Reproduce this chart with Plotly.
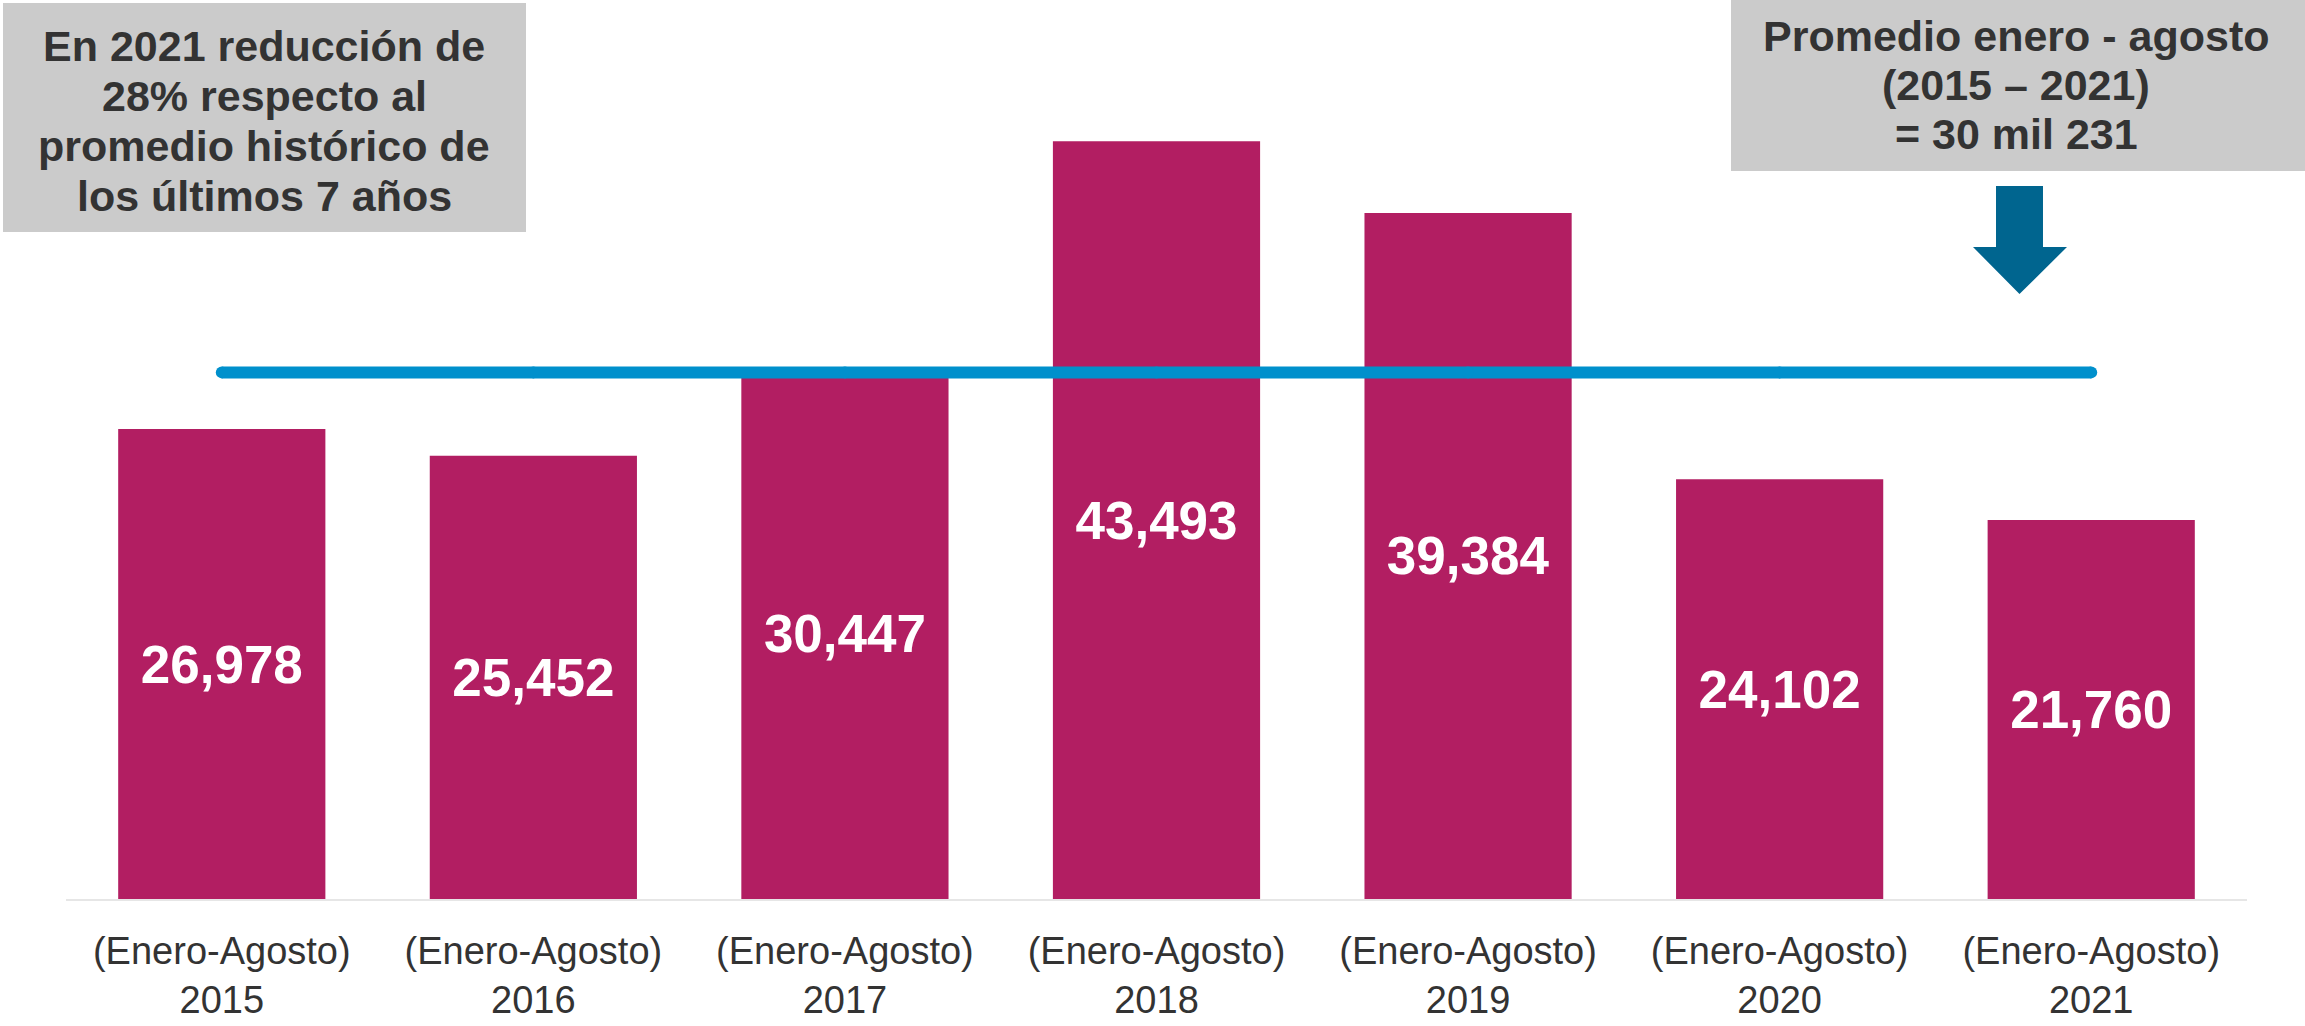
import plotly.graph_objects as go

# ---- data ----
years = ["2015", "2016", "2017", "2018", "2019", "2020", "2021"]
period_label = "(Enero-Agosto)"
values = [26978, 25452, 30447, 43493, 39384, 24102, 21760]
promedio = 30231

left_box_lines = ["En 2021 reducción de", "28% respecto al",
                  "promedio histórico de", "los últimos 7 años"]
right_box_lines = ["Promedio enero - agosto", "(2015 – 2021)", "= 30 mil 231"]

# ---- style ----
W, H = 2305, 1026
ML, MR, MT, MB = 66, 58, 28, 127
FONT = "Liberation Sans, Arial, sans-serif"
BAR_COLOR = "#B21E62"
LINE_COLOR = "#0090CC"
ARROW_COLOR = "#00658F"
BOX_COLOR = "#CBCBCB"
TEXT_COLOR = "#333333"

PW = W - ML - MR
PH = H - MT - MB


def px(x):
    return (x - ML) / PW


def py(y):
    return (H - MB - y) / PH


tick_text = [f"{period_label}<br>{y}" for y in years]

fig = go.Figure()
fig.add_trace(go.Bar(
    x=years, y=values,
    marker=dict(color=BAR_COLOR, line=dict(width=0)),
    text=[f"{v:,}" for v in values],
    textposition="inside", insidetextanchor="middle",
    textangle=0,
    textfont=dict(family=FONT, size=53, color="white", weight="bold"),
    cliponaxis=False,
    hoverinfo="skip",
))
fig.add_trace(go.Scatter(
    x=years, y=[promedio] * len(years),
    mode="lines+markers",
    line=dict(color=LINE_COLOR, width=12),
    marker=dict(color=LINE_COLOR, size=12, line=dict(width=0)),
    hoverinfo="skip",
))

shapes = []
# left grey box
shapes.append(dict(type="rect", xref="paper", yref="paper",
                   x0=px(3), x1=px(526), y0=py(232), y1=py(3),
                   fillcolor=BOX_COLOR, line=dict(width=0), layer="below"))
# right grey box
shapes.append(dict(type="rect", xref="paper", yref="paper",
                   x0=px(1731), x1=px(2305), y0=py(171), y1=py(0),
                   fillcolor=BOX_COLOR, line=dict(width=0), layer="below"))
# arrow
pts = [(1996, 186), (2043, 186), (2043, 247), (2067, 247), (2019.5, 294),
       (1973, 247), (1996, 247)]
path = "M " + " L ".join(f"{px(a):.5f},{py(b):.5f}" for a, b in pts) + " Z"
shapes.append(dict(type="path", xref="paper", yref="paper", path=path,
                   fillcolor=ARROW_COLOR, line=dict(width=0)))

annotations = []
BF = 43
for i, t in enumerate(left_box_lines):
    base = 60 + 50 * i
    annotations.append(dict(xref="paper", yref="paper", x=px(264), y=py(base - 0.33 * BF),
                            text=f"<b>{t}</b>", showarrow=False, xanchor="center",
                            yanchor="middle",
                            font=dict(family=FONT, size=BF, color=TEXT_COLOR)))
for i, t in enumerate(right_box_lines):
    base = 50 + 49 * i
    annotations.append(dict(xref="paper", yref="paper", x=px(2016), y=py(base - 0.33 * BF),
                            text=f"<b>{t}</b>", showarrow=False, xanchor="center",
                            yanchor="middle",
                            font=dict(family=FONT, size=BF, color=TEXT_COLOR)))

fig.update_layout(
    width=W, height=H,
    margin=dict(l=ML, r=MR, t=MT, b=MB, pad=0, autoexpand=False),
    paper_bgcolor="white", plot_bgcolor="white",
    showlegend=False,
    bargap=0.335,
    shapes=shapes,
    annotations=annotations,
    xaxis=dict(type="category", tickvals=years, ticktext=tick_text,
               showgrid=False, showline=True, linecolor="#E6E6E6", linewidth=2,
               ticks="", ticklabelstandoff=17, automargin=False,
               tickfont=dict(family=FONT, size=38, color=TEXT_COLOR),
               zeroline=False, fixedrange=True),
    yaxis=dict(range=[0, 50000], visible=False, showgrid=False, zeroline=False,
               automargin=False, fixedrange=True),
)

fig.write_html("out.html", config={"displayModeBar": False},
               post_script="document.body.style.margin='0px';"
                           "document.body.style.overflow='hidden';")
